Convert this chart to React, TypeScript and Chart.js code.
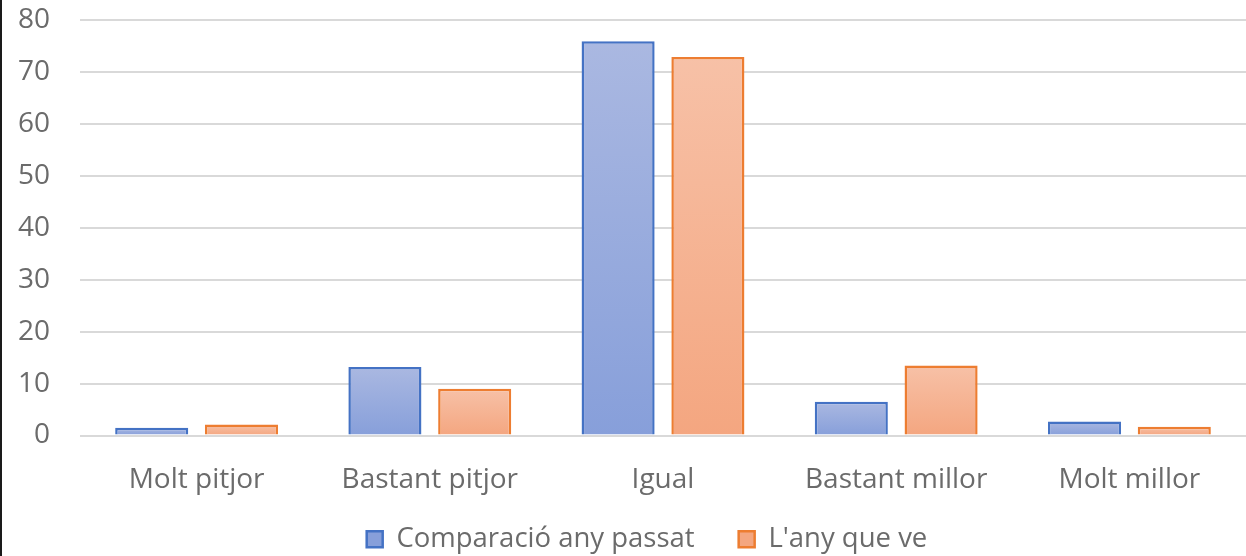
import React, { useEffect, useRef } from 'react';
import { Chart, registerables } from 'chart.js';

Chart.register(...registerables);

// ---- data ----
const categories: string[] = ['Molt pitjor', 'Bastant pitjor', 'Igual', 'Bastant millor', 'Molt millor'];
const seriesNames: string[] = ['Comparació any passat', "L'any que ve"];
const comparacioAnyPassat: number[] = [1.5, 13.2, 75.9, 6.5, 2.7];
const anyQueVe: number[] = [2.1, 9.0, 72.9, 13.5, 1.7];
const yMin = 0;
const yMax = 80;
const yStep = 10;

const TEXT = '#6b6b6b';
const FONT = "'Open Sans', 'DejaVu Sans', sans-serif";

function gradientFill(top: string, bottom: string, solid: string) {
  return (ctx: any) => {
    if (ctx.type !== 'data') return solid;
    const chart = ctx.chart;
    const y = chart.scales && chart.scales.y;
    if (!y) return solid;
    const v = ctx.raw as number;
    const p0 = y.getPixelForValue(v);
    const p1 = y.getPixelForValue(0);
    if (!isFinite(p0) || !isFinite(p1) || Math.abs(p1 - p0) < 0.5) return solid;
    const g = chart.ctx.createLinearGradient(0, p0, 0, p1);
    g.addColorStop(0, top);
    g.addColorStop(1, bottom);
    return g;
  };
}

const layoutTweak = {
  id: 'layoutTweak',
  afterLayout(chart: any) {
    const lg = chart.legend;
    if (lg) {
      const dy = 7;
      const dx = -16;
      lg.top += dy;
      lg.bottom += dy;
      lg.left += dx;
      lg.right += dx;
    }
    const x = chart.scales && chart.scales.x;
    if (x) {
      // let the category labels extend into the space above the legend
      x.bottom = x.top + 80;
    }
  },
};

export default function App() {
  const ref = useRef<HTMLCanvasElement | null>(null);

  useEffect(() => {
    document.body.style.margin = '0';
    const canvas = ref.current;
    if (!canvas) return;
    const chart = new Chart(canvas, {
      type: 'bar',
      data: {
        labels: categories,
        datasets: [
          {
            label: seriesNames[0],
            data: comparacioAnyPassat,
            backgroundColor: gradientFill('#aab8e1', '#879fda', '#98acdd'),
            borderColor: '#4472c4',
            borderWidth: 2.5,
            categoryPercentage: 0.77,
            barPercentage: 0.814,
          },
          {
            label: seriesNames[1],
            data: anyQueVe,
            backgroundColor: gradientFill('#f7c1a7', '#f4a680', '#f6b494'),
            borderColor: '#ed7d31',
            borderWidth: 2.5,
            categoryPercentage: 0.77,
            barPercentage: 0.814,
          },
        ],
      },
      options: {
        responsive: false,
        animation: false,
        devicePixelRatio: 1,
        layout: { padding: { top: 20, left: 0, right: 0, bottom: 0 } },
        plugins: {
          tooltip: { enabled: false },
          legend: {
            position: 'bottom',
            fullSize: false,
            labels: {
              color: TEXT,
              font: { family: FONT, size: 27.5 },
              boxWidth: 16,
              boxHeight: 16,
              padding: 44,
            },
          },
        },
        scales: {
          x: {
            grid: { display: false },
            border: { display: false },
            ticks: {
              color: TEXT,
              font: { family: FONT, size: 28 },
              padding: 20,
              maxRotation: 0,
              autoSkip: false,
            },
            afterFit: (s: any) => {
              s.height = 39;
            },
          },
          y: {
            min: yMin,
            max: yMax,
            grid: { color: '#d9d9d9', lineWidth: 2, drawTicks: false },
            border: { display: false },
            ticks: {
              stepSize: yStep,
              color: TEXT,
              font: { family: FONT, size: 28 },
              padding: 30,
            },
            afterFit: (s: any) => {
              s.width = 80;
              s.paddingTop = 10;
              s.paddingBottom = 10;
            },
          },
        },
      },
      plugins: [layoutTweak],
    });
    return () => chart.destroy();
  }, []);

  return (
    <div style={{ position: 'relative', width: 1246, height: 556, overflow: 'hidden', background: '#fff' }}>
      <canvas ref={ref} width={1246} height={556} style={{ position: 'absolute', left: 0, top: 0 }} />
      <div style={{ position: 'absolute', left: 0, top: 0, width: 2, height: 556, background: '#1a1a1a' }} />
    </div>
  );
}
